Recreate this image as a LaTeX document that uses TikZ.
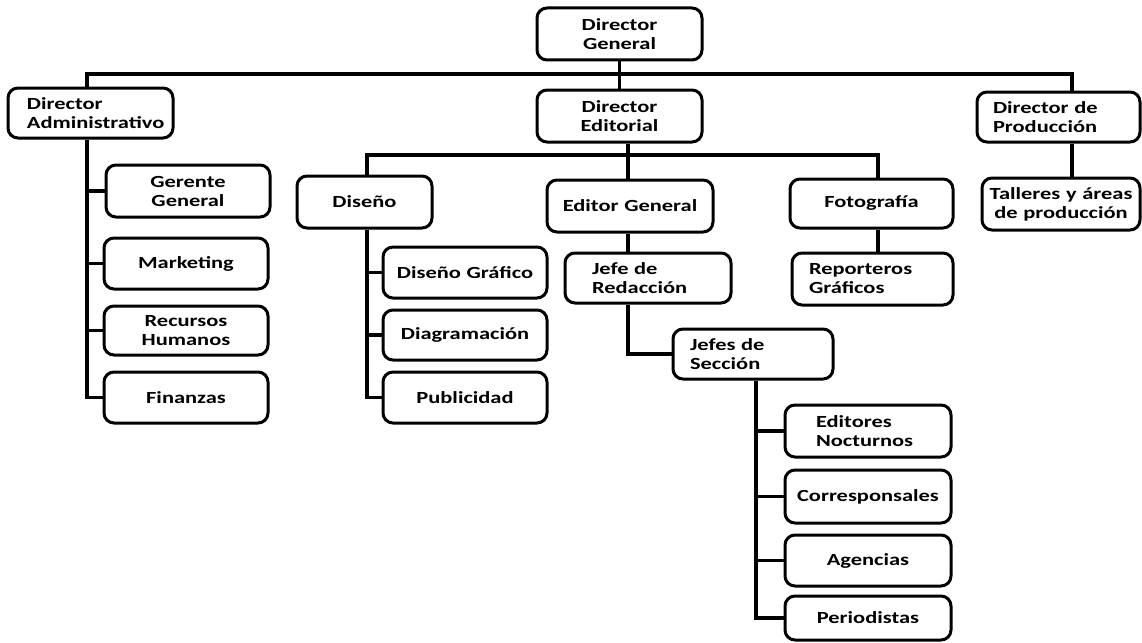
\documentclass[tikz,border=0pt]{standalone}
\usepackage{fontspec}
\setmainfont{Carlito}[FakeStretch=1.32]
\begin{document}
\begin{tikzpicture}[x=1pt,y=-1pt,
  box/.style={draw, rounded corners=10pt, line width=3pt, fill=white,
    font=\fontsize{17}{19}\selectfont\bfseries, inner ysep=0pt},
  conn/.style={line width=3.2pt}]
\useasboundingbox[fill=white] (0,0) rectangle (1142,642);
% nodes: center (cx,cy), width w, height h
\newcommand{\cbox}[7]{% name, cx, cy, w, h, align, text
  \node[box, minimum width=#4pt, minimum height=#5pt, text width=#4pt-12pt, inner xsep=6pt, align=#6] (#1) at (#2,#3) {#7};}
\newcommand{\lbox}[7]{% name, cx, cy, w, h, offset, text
  \node[box, minimum width=#4pt, minimum height=#5pt, text width=#4pt-2*#6pt, inner xsep=#6pt, align=left] (#1) at (#2,#3) {#7};}
\cbox{dg}{619.5}{34}{165}{52}{center}{Director\\General}
\lbox{dadm}{90.5}{113}{165}{50}{19}{Director\\Administrativo}
\cbox{ded}{619.5}{116}{165}{52}{center}{Director\\Editorial}
\lbox{dprod}{1058.5}{117}{163}{50}{16}{Director de\\Producción}
\cbox{tall}{1061}{204}{158}{52}{center}{Talleres y áreas\\de producción}
\cbox{ger}{188}{191}{164}{52}{center}{Gerente\\General}
\cbox{mkt}{186}{263.5}{164}{51}{center}{Marketing}
\cbox{rh}{186}{330.5}{164}{49}{center}{Recursos\\Humanos}
\cbox{fin}{186}{397.5}{164}{51}{center}{Finanzas}
\cbox{dis}{364.5}{202}{135}{52}{center}{Diseño}
\cbox{dgr}{465}{272.5}{164}{51}{center}{Diseño Gráfico}
\cbox{diag}{465}{335}{164}{50}{center}{Diagramación}
\cbox{pub}{465}{397.5}{164}{51}{center}{Publicidad}
\cbox{edg}{630}{206}{166}{52}{center}{Editor General}
\lbox{jr}{648}{278}{166}{50}{27}{Jefe de\\Redacción}
\lbox{js}{753}{354}{160}{50}{17}{Jefes de\\Sección}
\cbox{foto}{871.5}{203.5}{163}{49}{center}{Fotografía}
\lbox{rep}{872.5}{279}{161}{52}{17}{Reporteros\\Gráficos}
\lbox{en}{868}{431}{166}{52}{31}{Editores\\Nocturnos}
\cbox{cor}{868}{496.5}{166}{53}{center}{Corresponsales}
\cbox{age}{868}{560.5}{166}{51}{center}{Agencias}
\cbox{per}{868}{618}{166}{44}{center}{Periodistas}
% junction coordinates
\coordinate (ta) at (87,74);
\coordinate (tp) at (1072,74);
\coordinate (el) at (367,155);
\coordinate (eb) at (628,155);
\coordinate (er) at (878,155);
\coordinate (jt) at (756,0);
% top level
\draw[conn] (dg) -- (ded);
\draw[conn] (ta |- dadm.north) -- (ta) -- (tp) -- (tp |- dprod.north);
\draw[conn] (tp |- dprod.south) -- (tp |- tall.north);
% administrativo
\draw[conn] (ta |- dadm.south) |- (fin.west);
\draw[conn] (ta |- ger.west) -- (ger.west);
\draw[conn] (ta |- mkt.west) -- (mkt.west);
\draw[conn] (ta |- rh.west) -- (rh.west);
% editorial
\draw[conn] (eb |- ded.south) -- (eb) -- (eb |- edg.north);
\draw[conn] (el |- dis.north) -- (el) -- (er) -- (er |- foto.north);
\draw[conn] (el |- dis.south) |- (pub.west);
\draw[conn] (el |- dgr.west) -- (dgr.west);
\draw[conn] (el |- diag.west) -- (diag.west);
\draw[conn] (er |- foto.south) -- (er |- rep.north);
\draw[conn] (eb |- edg.south) -- (eb |- jr.north);
\draw[conn] (eb |- jr.south) |- (js.west);
\draw[conn] (jt |- js.south) |- (per.west);
\draw[conn] (jt |- en.west) -- (en.west);
\draw[conn] (jt |- cor.west) -- (cor.west);
\draw[conn] (jt |- age.west) -- (age.west);
\end{tikzpicture}
\end{document}
